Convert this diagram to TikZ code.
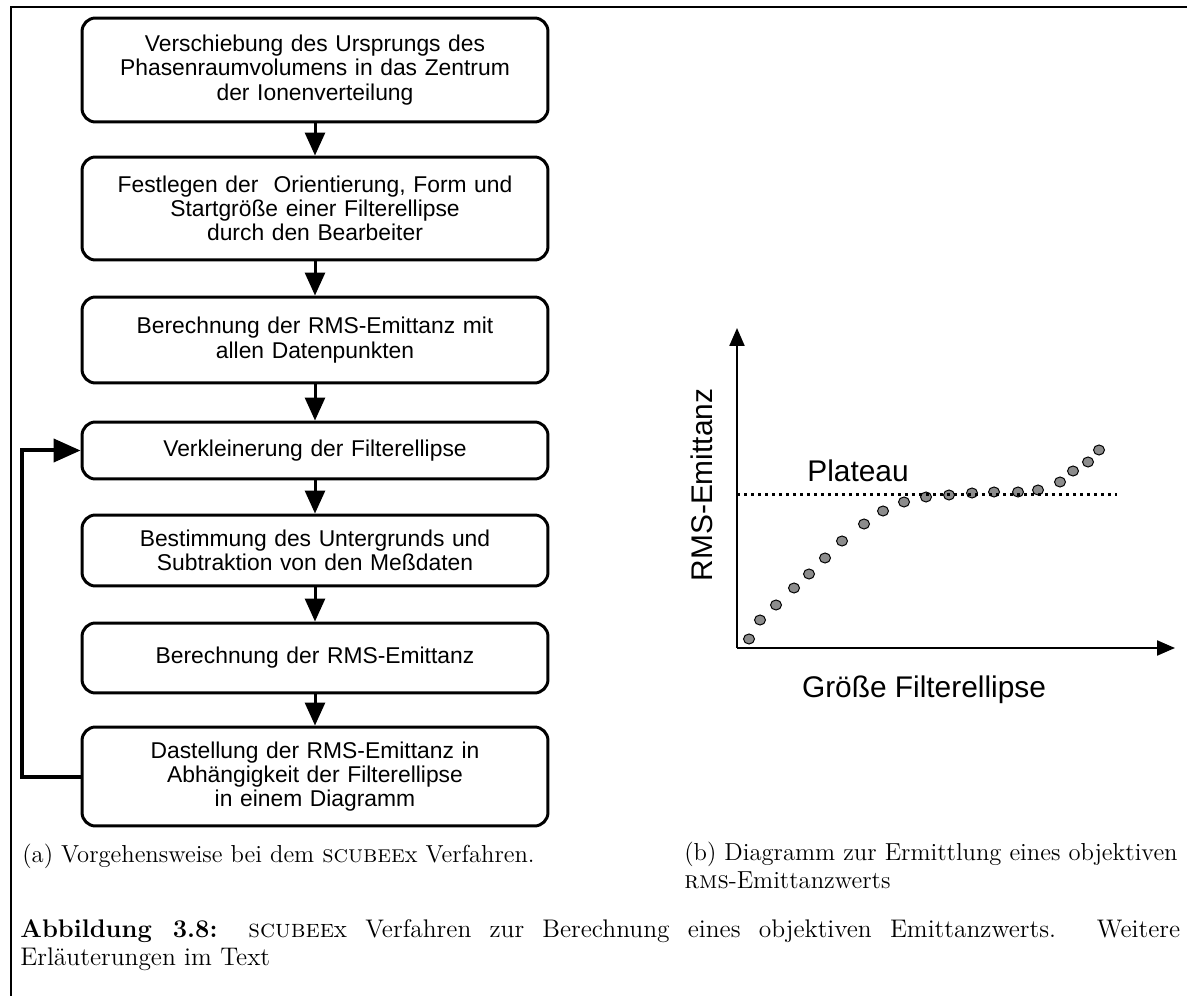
\documentclass[tikz,border=0pt]{standalone}
\usepackage{fontspec}
\setsansfont{Liberation Sans}
\usetikzlibrary{arrows.meta}

\begin{document}
\begin{tikzpicture}[x=0.02cm,y=-0.02cm,
    schritt/.style={draw,line width=0.06cm,rounded corners=0.27cm,minimum width=9.32cm,text width=8.9cm,align=center,inner sep=0pt,font=\sffamily\fontsize{13}{13.8}\selectfont},
    pfeil/.style={line width=0.06cm,-{Triangle[length=0.46cm,width=0.4cm]}},
    achse/.style={line width=0.045cm,-{Triangle[length=0.36cm,width=0.3cm]}},
    punkt/.style={draw,fill=gray!90,line width=0.02cm},
    achstext/.style={font=\sffamily\fontsize{17}{17}\selectfont,inner sep=0pt},
    unterschrift/.style={anchor=base west,inner sep=0pt,font=\fontsize{14}{16.5}\selectfont}]
  \useasboundingbox (0,0) rectangle (1187,996);
  \draw[line width=0.055cm] (1187,7) -- (11,7) -- (11,996);

  \node[schritt,minimum height=2.08cm] (b1) at (315,70) {Verschiebung des Ursprungs des\\ Phasenraumvolumens in das Zentrum\\ der Ionenverteilung};
  \node[schritt,minimum height=2.06cm] (b2) at (315,208.5) {Festlegen der\ \ Orientierung, Form und\\ Startgröße einer Filterellipse\\ durch den Bearbeiter};
  \node[schritt,minimum height=1.72cm] (b3) at (315,340) {Berechnung der RMS-Emittanz mit\\ allen Datenpunkten};
  \node[schritt,minimum height=1.14cm] (b4) at (315,450.5) {Verkleinerung der Filterellipse};
  \node[schritt,minimum height=1.42cm] (b5) at (315,550.5) {Bestimmung des Untergrunds und\\ Subtraktion von den Meßdaten};
  \node[schritt,minimum height=1.40cm] (b6) at (315,658) {Berechnung der RMS-Emittanz};
  \node[schritt,minimum height=1.98cm] (b7) at (315,776.5) {Dastellung der RMS-Emittanz in\\ Abhängigkeit der Filterellipse\\ in einem Diagramm};

  \draw[pfeil] (b1) -- (b2);
  \draw[pfeil] (b2) -- (b3);
  \draw[pfeil] (b3) -- (b4);
  \draw[pfeil] (b4) -- (b5);
  \draw[pfeil] (b5) -- (b6);
  \draw[pfeil] (b6) -- (b7);
  \draw[line width=0.08cm,-{Triangle[length=0.54cm,width=0.46cm]}] (b7.west) -- ++(-59,0) |- (b4.west);

  \coordinate (O) at (737,648);
  \coordinate (ytip) at (737,328);
  \coordinate (xtip) at (1175,648);
  \draw[achse] (O) -- (ytip);
  \draw[achse] (O) -- (xtip);
  \foreach \x/\y in {749/639,760/620,776/605,794/588,809/574,825/558,842/541,864/524,883/511,904/502,
                     926/497,949/495,972/493,994/492,1018/492,1038/490,1060/482,1073/471,1088/462,1099/450}
    \draw[punkt] (\x,\y) ellipse [x radius=0.11cm,y radius=0.1cm];
  \coordinate (p1) at (737,495);
  \coordinate (p2) at (1117,495);
  \draw[line width=0.06cm,dash pattern=on 0.06cm off 0.08cm] (p1) -- (p2);
  \node[achstext,anchor=base west] (plat) at (807,482) {Plateau};
  \node[achstext,rotate=90] (ylab) at (702,485) {RMS-Emittanz};
  \node[achstext,anchor=base] (xlab) at (924,697) {Größe Filterellipse};

  \node[unterschrift] (capa) at (22,862) {(a) Vorgehensweise bei dem \textsc{scubee}x Verfahren.};
  \node[unterschrift] (capb) at (684,860) {\parbox[t]{10cm}{(b) Diagramm zur Ermittlung eines objektiven\\ \textsc{rms}-Emittanzwerts}};
  \node[unterschrift,font=\fontsize{14.5}{16.5}\selectfont] (cap) at (20,937) {\parbox[t]{23.2cm}{\textbf{Abbildung 3.8:} \textsc{scubee}x Verfahren zur Berechnung eines objektiven Emittanzwerts. Weitere\linebreak Erläuterungen im Text}};
\end{tikzpicture}
\end{document}
